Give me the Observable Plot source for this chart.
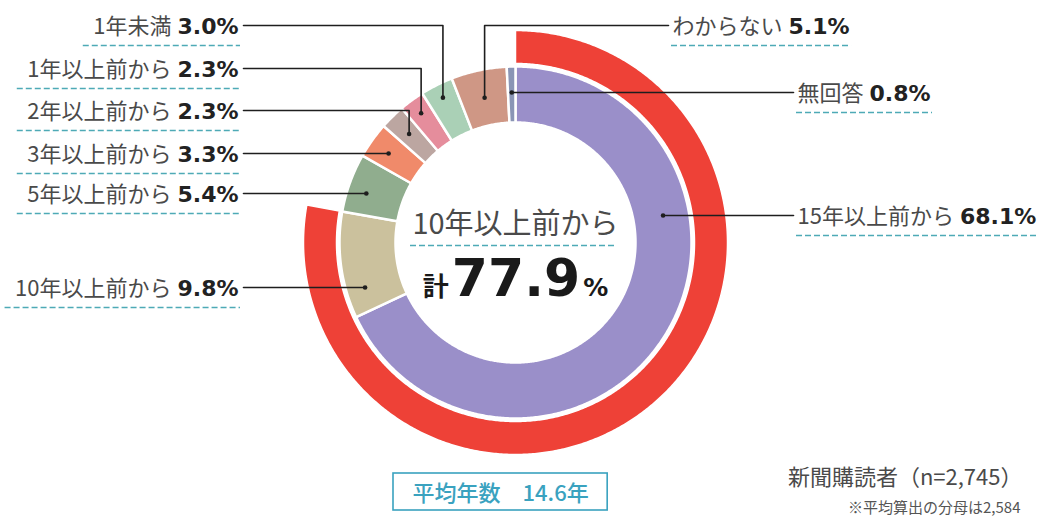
<!DOCTYPE html>
<html><head><meta charset="utf-8">
<script src="https://cdn.jsdelivr.net/npm/d3@7"></script>
<script src="https://cdn.jsdelivr.net/npm/@observablehq/plot@0.6"></script>
<style>html,body{margin:0;padding:0;background:#fff}#chart svg{display:block}</style>
</head><body><div id="chart"></div>
<script>
// ---- data ----
const categories = ["15年以上前から","10年以上前から","5年以上前から","3年以上前から","2年以上前から","1年以上前から","1年未満","わからない","無回答"];
const values = [68.1, 9.8, 5.4, 3.3, 2.3, 2.3, 3.0, 5.1, 0.8];
const sliceColors = ["#9a8fc9","#cbc19d","#90ad8e","#f08a6a","#bca6a1","#e58d9c","#aad0b6","#cf9785","#8a95b5"];
const groupCount = 2;               // 15年以上 + 10年以上 form the outer red arc
const groupLabel = "10年以上前から";
const groupColor = "#ee4137";
const averageLabel = "平均年数";
const averageYears = 14.6;
const sampleLabel = "新聞購読者（n=2,745）";
const footnote = "※平均算出の分母は2,584";

// ---- layout (pixel frame) ----
const W = 1046, H = 516;
const cx = 515, cy = 242;
const R_IN = 120, R_OUT = 176, RED_IN = 179, RED_OUT = 212;
const labelLayout = {
  "15年以上前から": {side:"right", lineY:215, endX:793, mode:"atY", r:150},
  "10年以上前から": {side:"left",  lineY:287, endX:243, mode:"atY", r:157},
  "5年以上前から":  {side:"left",  lineY:193, endX:243, mode:"atY", r:157},
  "3年以上前から":  {side:"left",  lineY:153, endX:243, mode:"atY", r:155},
  "2年以上前から":  {side:"left",  lineY:110, endX:243, mode:"elbow", r:152},
  "1年以上前から":  {side:"left",  lineY:68,  endX:243, mode:"elbow", r:160},
  "1年未満":        {side:"left",  lineY:25,  endX:243, mode:"elbow", r:162},
  "わからない":     {side:"right", lineY:25,  endX:668, mode:"elbow", r:148},
  "無回答":         {side:"right", lineY:0,   endX:793, mode:"atDot", r:150}
};
const JP = "'Noto Sans CJK JP', sans-serif";
const NUM = "'DejaVu Sans', sans-serif";
const FS = 22;
const ctx = document.createElement("canvas").getContext("2d");
function tw(s, size, fam, weight) { ctx.font = `${weight||400} ${size}px ${fam}`; return ctx.measureText(s).width; }

const rad = Math.PI / 180;
const total = d3.sum(values);
let cum = 0;
const slices = categories.map((c, i) => {
  const a0 = cum / total * 360; cum += values[i]; const a1 = cum / total * 360;
  return {c, v: values[i], a0, a1, mid: (a0 + a1) / 2, color: sliceColors[i]};
});
function ring(key, a0, a1, r0, r1, color) {
  const n = Math.max(2, Math.ceil((a1 - a0) / 0.5)), pts = [];
  for (let k = 0; k <= n; k++) { const a = (a0 + (a1 - a0) * k / n) * rad; pts.push({key, color, px: cx + r1 * Math.sin(a), py: cy - r1 * Math.cos(a)}); }
  for (let k = n; k >= 0; k--) { const a = (a0 + (a1 - a0) * k / n) * rad; pts.push({key, color, px: cx + r0 * Math.sin(a), py: cy - r0 * Math.cos(a)}); }
  return pts;
}
const slicePts = slices.flatMap(s => ring(s.c, s.a0, s.a1, R_IN, R_OUT, s.color));
const groupValue = d3.sum(values.slice(0, groupCount));
const redPts = ring("group", 0, groupValue / total * 360, RED_IN, RED_OUT, groupColor);

// leaders, dots, labels
const leaderPts = [], dots = [], labels = [], dashes = [];
slices.forEach(s => {
  const L = labelLayout[s.c];
  let dx, dy, lineY;
  if (L.mode === "atY") {
    lineY = L.lineY; const d = lineY - cy; const h = Math.sqrt(L.r * L.r - d * d);
    dx = L.side === "left" ? cx - h : cx + h; dy = lineY;
  } else {
    dx = cx + L.r * Math.sin(s.mid * rad); dy = cy - L.r * Math.cos(s.mid * rad);
    lineY = L.mode === "atDot" ? dy : L.lineY;
  }
  dots.push({x: dx, y: dy});
  leaderPts.push({key: s.c, x: dx, y: dy});
  if (Math.abs(dy - lineY) > 0.5) leaderPts.push({key: s.c, x: dx, y: lineY});
  leaderPts.push({key: s.c, x: L.endX, y: lineY});
  const num = s.v.toFixed(1) + "%";
  const jw = tw(s.c, FS, JP, 400), nw = tw(num, FS, NUM, 700);
  let jx, nx, x1, x2;
  if (L.side === "left") {
    nx = L.endX - 5; jx = nx - nw - 6; x1 = jx - jw - 10; x2 = L.endX - 3;
  } else {
    jx = L.endX + 4; nx = jx + jw + 6; x1 = L.endX + 3; x2 = nx + nw + 2;
  }
  labels.push({side: L.side, jp: s.c, num, jx, nx, ty: lineY + 8});
  dashes.push({y: lineY + 20, x1, x2});
});
const leftL = labels.filter(d => d.side === "left"), rightL = labels.filter(d => d.side === "right");

// center total: 計 + number + %
const centerNum = groupValue.toFixed(1);
const wKei = tw("計", 26, JP, 700), wNum = tw(centerNum, 52, NUM, 700), wPct = tw("%", 25, NUM, 700);
const cTotal = wKei + wNum + wPct + 6;
const keiX = cx - cTotal / 2, numX = keiX + wKei + 3, pctX = numX + wNum + 3;
const cBase = 295;

// bottom box
const avgText = `${averageLabel}　${averageYears.toFixed(1)}年`;
const avgW = tw(avgText, 22, JP, 500);
const boxX1 = 393, boxX2 = boxX1 + avgW + 38;

const teal = "#3aa2bf";
const one = [0];
const chart = Plot.plot({
  width: W, height: H, margin: 0,
  x: {domain: [0, W], range: [0, W], axis: null},
  y: {domain: [0, H], range: [0, H], axis: null},
  color: {type: "identity"},
  style: {background: "#fff", overflow: "visible"},
  marks: [
    Plot.line(redPts, {x: "px", y: "py", z: "key", fill: groupColor, stroke: "#fff", strokeWidth: 1.5, curve: "linear-closed"}),
    Plot.line(slicePts, {x: "px", y: "py", z: "key", fill: "color", stroke: "#fff", strokeWidth: 2.5, curve: "linear-closed"}),
    Plot.line(leaderPts, {x: "x", y: "y", z: "key", stroke: "#1e1e1e", strokeWidth: 1.6}),
    Plot.dot(dots, {x: "x", y: "y", r: 2.3, fill: "#1e1e1e"}),
    Plot.ruleY(dashes, {y: "y", x1: "x1", x2: "x2", stroke: "#4eaab6", strokeWidth: 1.4, strokeDasharray: "6,3"}),
    Plot.text(leftL, {x: "jx", y: "ty", text: "jp", textAnchor: "end", lineAnchor: "bottom", fontFamily: JP, fontSize: FS, fill: "#4a4a4a"}),
    Plot.text(leftL, {x: "nx", y: "ty", text: "num", textAnchor: "end", lineAnchor: "bottom", fontFamily: NUM, fontWeight: 700, fontSize: FS, fill: "#222"}),
    Plot.text(rightL, {x: "jx", y: "ty", text: "jp", textAnchor: "start", lineAnchor: "bottom", fontFamily: JP, fontSize: FS, fill: "#4a4a4a"}),
    Plot.text(rightL, {x: "nx", y: "ty", text: "num", textAnchor: "start", lineAnchor: "bottom", fontFamily: NUM, fontWeight: 700, fontSize: FS, fill: "#222"}),
    // center
    Plot.text([groupLabel], {x: () => cx, y: () => 233, text: d => d, textAnchor: "middle", lineAnchor: "bottom", fontFamily: JP, fontSize: 29, fill: "#4a4a4a"}),
    Plot.ruleY([245], {x1: 410, x2: 616, stroke: "#4eaab6", strokeWidth: 1.4, strokeDasharray: "6,3"}),
    Plot.text(one, {x: () => keiX, y: () => cBase, text: () => "計", textAnchor: "start", lineAnchor: "bottom", fontFamily: JP, fontWeight: 700, fontSize: 26, fill: "#1a1a1a"}),
    Plot.text(one, {x: () => numX, y: () => cBase, text: () => centerNum, textAnchor: "start", lineAnchor: "bottom", fontFamily: NUM, fontWeight: 700, fontSize: 52, fill: "#1a1a1a"}),
    Plot.text(one, {x: () => pctX, y: () => cBase, text: () => "%", textAnchor: "start", lineAnchor: "bottom", fontFamily: NUM, fontWeight: 700, fontSize: 25, fill: "#1a1a1a"}),
    // bottom
    Plot.rect(one, {x1: () => boxX1, x2: () => boxX2, y1: () => 473, y2: () => 510, fill: "none", stroke: teal, strokeWidth: 1.6}),
    Plot.text([avgText], {x: () => boxX1 + 19, y: () => 500, text: d => d, textAnchor: "start", lineAnchor: "bottom", fontFamily: JP, fontWeight: 500, fontSize: 22, fill: teal}),
    Plot.text([sampleLabel], {x: () => 1022, y: () => 484, text: d => d, textAnchor: "end", lineAnchor: "bottom", fontFamily: JP, fontSize: 22, fill: "#4a4a4a"}),
    Plot.text([footnote], {x: () => 1020, y: () => 512, text: d => d, textAnchor: "end", lineAnchor: "bottom", fontFamily: JP, fontSize: 15, fill: "#555"})
  ]
});
document.getElementById("chart").append(chart);
</script>
</body></html>
